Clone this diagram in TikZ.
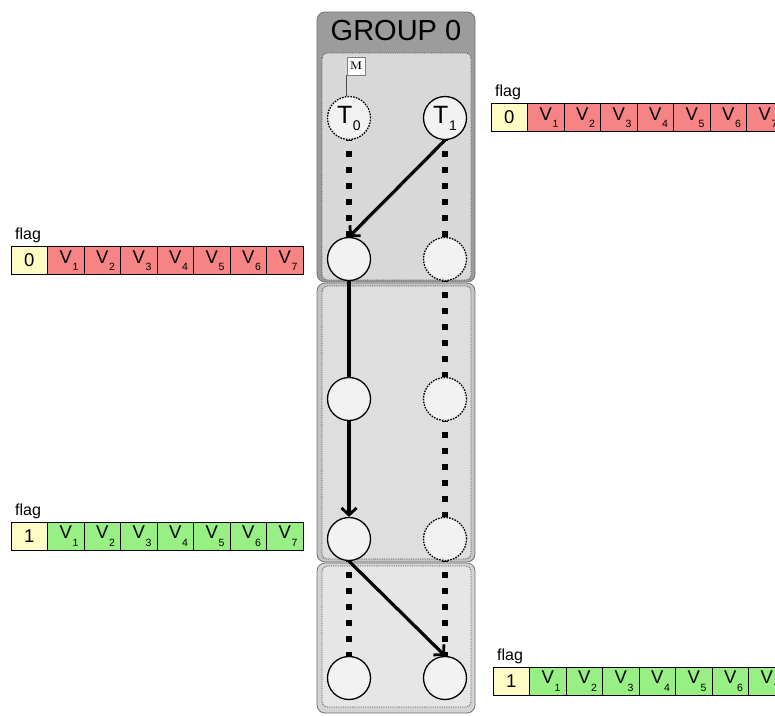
\documentclass[tikz,border=0pt]{standalone}
\usepackage{fontspec}
\setmainfont{Liberation Sans}
\newfontfamily\lmrm{Latin Modern Roman}
\usetikzlibrary{arrows.meta}
\definecolor{gA}{HTML}{9C9C9C}
\definecolor{gAi}{HTML}{D8D8D8}
\definecolor{gB}{HTML}{C4C4C4}
\definecolor{gBi}{HTML}{DEDEDE}
\definecolor{gC}{HTML}{D4D4D4}
\definecolor{gCi}{HTML}{E6E6E6}
\definecolor{circfill}{HTML}{F2F2F2}
\definecolor{flagfill}{HTML}{FFFBC4}
\definecolor{redfill}{HTML}{F68484}
\definecolor{greenfill}{HTML}{98F084}
\newcommand{\vlab}[1]{V\makebox[0pt][l]{\kern0.8pt\raisebox{-7.5pt}{\fontsize{10.5}{10.5}\selectfont #1}}}
\newcommand{\tlab}[1]{T\kern0.5pt\raisebox{-7pt}{\fontsize{14}{14}\selectfont #1}}
\tikzset{
  outerblk/.style={rounded corners=8pt, draw=gray!90!black, line width=0.8pt},
  innerblk/.style={rounded corners=5pt, draw=black!70, densely dotted, line width=0.8pt},
  circ/.style={circle, minimum size=43pt, inner sep=0pt, draw=black, line width=1.3pt, fill=circfill, font=\fontsize{25}{25}\selectfont},
  dcirc/.style={circ, dash pattern=on 1.6pt off 1.2pt},
  conn/.style={line width=3.2pt, draw=black},
  arr/.style={conn, -{Straight Barb[length=7pt,width=15pt,line width=2.8pt]}},
  dots/.style={line width=5.5pt, dash pattern=on 5.5pt off 10.5pt, dash phase=5pt},
  cellbase/.style={draw=black, line width=1pt, minimum width=36.5pt, minimum height=28pt, inner sep=0pt, font=\fontsize{18.5}{18.5}\selectfont},
  flagcell/.style={cellbase, fill=flagfill},
  vcell/.style={cellbase},
  flaglab/.style={anchor=base west, inner sep=0pt, font=\fontsize{16}{16}\selectfont},
  mbox/.style={draw=gray, fill=white, line width=0.6pt, minimum size=18pt, inner sep=0pt, font=\lmrm\bfseries\fontsize{11}{11}\selectfont}
}
\newcommand{\cellrow}[5]{%
  \node[flaglab] (#1lab) at (#2+4,#3-7) {flag};
  \node[flagcell] (#1f) at (#2+18.25,#3+14) {#4};
  \foreach \i in {1,...,7}{
    \node[vcell,fill=#5] (#1v\i) at ({#2+18.25+36.5*\i},#3+14) {\vlab{\i}};
  }
}
\begin{document}
\begin{tikzpicture}[x=1pt,y=-1pt]
\useasboundingbox (0,0) rectangle (775,715);
\clip (0,0) rectangle (775,715);
% blocks
\fill[gA, outerblk] (317,12) rectangle (475,282);
\fill[gAi, innerblk] (322,53) rectangle (471,280);
\fill[gB, outerblk] (317,283) rectangle (475,562);
\fill[gBi, innerblk] (322,286) rectangle (471,559);
\fill[gC, outerblk] (317,563) rectangle (475,713);
\fill[gCi, innerblk] (322,566) rectangle (471,707);
\node[font=\fontsize{29}{29}\selectfont] (title) at (396,31) {GROUP 0};
% circles
\node[dcirc] (T0) at (349,118) {\tlab{0}};
\node[circ]  (T1) at (445,118) {\tlab{1}};
\node[circ]  (L2) at (349,259) {};
\node[dcirc] (R2) at (445,259) {};
\node[circ]  (L3) at (349,399) {};
\node[dcirc] (R3) at (445,399) {};
\node[circ]  (L4) at (349,539) {};
\node[dcirc] (R4) at (445,539) {};
\node[circ]  (L5) at (349,678) {};
\node[circ]  (R5) at (445,678) {};
% M marker
\node[mbox] (M) at (356,66) {M};
\draw[line width=0.6pt, gray!60!black] (M.south west) -- (T0.north -| M.south west);
% dotted connectors
\draw[dots] (T0.south) -- (L2.north);
\draw[dots] (T1.south) -- (R2.north);
\draw[dots] (R2.south) -- (R3.north);
\draw[dots] (R3.south) -- (R4.north);
\draw[dots] (R4.south) -- (R5.north);
\draw[dots] (L4.south) -- (L5.north);
% solid connectors
\draw[arr] (T1.south) -- (L2.north);
\draw[conn] (L2.south) -- (L3.north);
\draw[arr] (L3.south) -- (L4.north);
\draw[arr] (L4.south) -- (R5.north);
% arrays
\cellrow{la}{11}{246.5}{0}{redfill}
\cellrow{lb}{11}{522}{1}{greenfill}
\cellrow{ra}{491}{103.5}{0}{redfill}
\cellrow{rb}{493}{667}{1}{greenfill}
\end{tikzpicture}
\end{document}
